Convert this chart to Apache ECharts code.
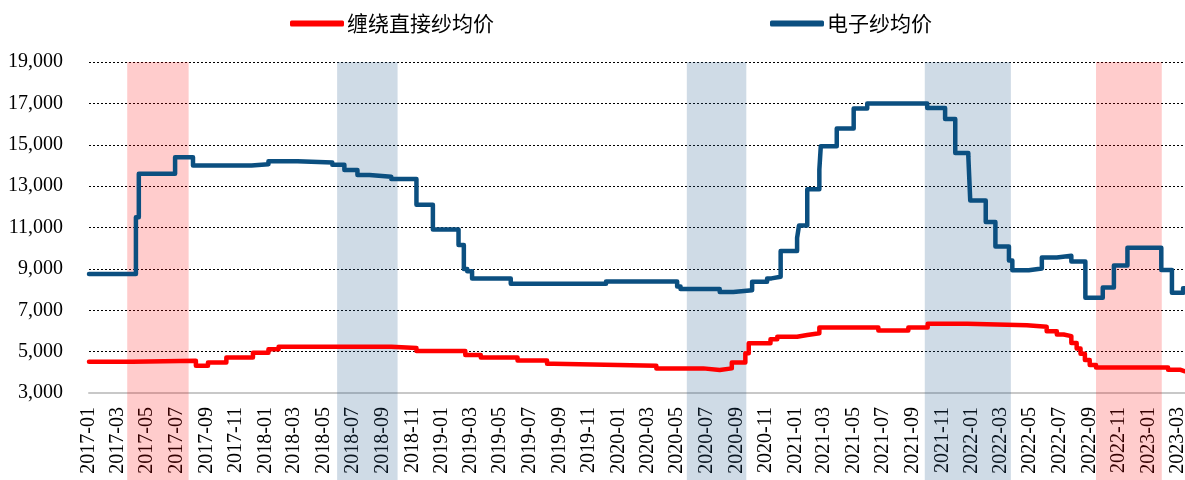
<!DOCTYPE html>
<html>
<head>
<meta charset="utf-8">
<title>纱价走势</title>
<style>
    html, body { margin: 0; padding: 0; background: #fff; }
    #chart { width: 1185px; height: 480px; }
</style>
<script src="https://cdn.jsdelivr.net/npm/echarts@6/dist/echarts.min.js"></script>
</head>
<body>
<div id="chart"></div>
<script>
// Price change points [date, price]; the price holds until the next change
const windingYarn = [
    ['2017-01-01', 4510], ['2017-04-01', 4560], ['2017-08-10', 4320], ['2017-09-04', 4470],
    ['2017-10-12', 4710], ['2017-12-06', 4940], ['2018-01-07', 5120], ['2018-01-28', 5240],
    ['2018-09-18', 5170], ['2018-11-09', 5030], ['2019-02-18', 4840], ['2019-03-22', 4720],
    ['2019-06-06', 4570], ['2019-08-06', 4410], ['2019-08-20', 4320], ['2020-03-19', 4190],
    ['2020-06-24', 4110], ['2020-07-28', 4190], ['2020-08-22', 4470], ['2020-09-19', 4920],
    ['2020-09-26', 5400], ['2020-11-10', 5600], ['2020-11-24', 5720], ['2021-01-04', 5800],
    ['2021-01-25', 5890], ['2021-02-19', 6170], ['2021-06-21', 6020], ['2021-08-22', 6170],
    ['2021-10-01', 6350], ['2021-12-22', 6280], ['2022-04-24', 6200], ['2022-06-04', 5980],
    ['2022-06-25', 5830], ['2022-07-09', 5750], ['2022-07-25', 5420], ['2022-08-05', 5150],
    ['2022-08-13', 4900], ['2022-08-22', 4600], ['2022-09-01', 4350], ['2022-09-14', 4230],
    ['2023-02-10', 4120], ['2023-03-08', 4050], ['2023-03-17', 4050]
];

const electronicYarn = [
    ['2017-01-01', 8750], ['2017-04-08', 11500], ['2017-04-14', 13600], ['2017-06-28', 14400],
    ['2017-08-04', 14000], ['2017-12-03', 14060], ['2018-01-07', 14200], ['2018-03-08', 14140],
    ['2018-05-19', 14030], ['2018-06-13', 13780], ['2018-07-10', 13540], ['2018-08-04', 13450],
    ['2018-09-18', 13350], ['2018-11-09', 12100], ['2018-12-13', 10900], ['2019-02-04', 10150],
    ['2019-02-15', 9000], ['2019-02-22', 8880], ['2019-03-04', 8540], ['2019-05-23', 8280],
    ['2019-12-06', 8390], ['2020-05-01', 8150], ['2020-05-08', 8030], ['2020-07-28', 7880],
    ['2020-08-25', 7970], ['2020-10-03', 8380], ['2020-11-03', 8540], ['2020-11-12', 8620],
    ['2020-12-01', 9870], ['2021-01-04', 10500], ['2021-01-08', 11100], ['2021-01-25', 12850],
    ['2021-02-19', 13800], ['2021-02-22', 14930], ['2021-03-27', 15780], ['2021-05-01', 16750],
    ['2021-05-29', 17000], ['2021-09-30', 16780], ['2021-11-06', 16250], ['2021-11-27', 14600],
    ['2021-12-24', 14450], ['2021-12-28', 12300], ['2022-01-29', 11260], ['2022-02-18', 10080],
    ['2022-03-18', 9400], ['2022-03-25', 8930], ['2022-04-28', 9020], ['2022-05-25', 9550],
    ['2022-06-25', 9630], ['2022-07-25', 9360], ['2022-08-23', 7600], ['2022-09-28', 8100],
    ['2022-10-21', 9160], ['2022-11-18', 10020], ['2023-01-27', 8940], ['2023-02-18', 7840],
    ['2023-03-13', 8060], ['2023-03-17', 8060]
];

// Shaded periods
const bandStarts = ['2017-03-21', '2018-05-29', '2020-05-21', '2021-09-25', '2022-09-14'];
const bandEnds   = ['2017-07-26', '2018-10-01', '2020-09-21', '2022-03-22', '2023-01-28'];
const bandKinds  = ['up', 'down', 'down', 'down', 'up'];

const yMin = 3000;
const yMax = 19000;
const yStep = 2000;

const firstDay = '2017-01-01';
const lastDay = '2023-03-17';

// Daily categories for the x axis
function buildDays(start, end) {
    const days = [];
    const d = new Date(start + 'T00:00:00Z');
    const stop = new Date(end + 'T00:00:00Z');
    while (d <= stop) {
        days.push(d.toISOString().slice(0, 10));
        d.setUTCDate(d.getUTCDate() + 1);
    }
    return days;
}

const days = buildDays(firstDay, lastDay);

// Label every other month, starting with January
function isLabelDay(index, value) {
    return value.slice(8) === '01' && Number(value.slice(5, 7)) % 2 === 1;
}

const bandColors = {
    up: 'rgba(255, 0, 0, 0.2)',
    down: 'rgba(36, 91, 141, 0.22)'
};

const bandData = bandStarts.map((start, i) => [
    { xAxis: start, yAxis: 0, itemStyle: { color: bandColors[bandKinds[i]] } },
    { xAxis: bandEnds[i], yAxis: 1 }
]);

const chart = echarts.init(document.getElementById('chart'));

const option = {
    animation: false,
    backgroundColor: '#fff',
    legend: {
        top: 8,
        left: 285,
        icon: 'roundRect',
        itemWidth: 54,
        itemHeight: 6,
        itemGap: 276,
        textStyle: {
            fontFamily: 'Noto Sans CJK SC',
            fontSize: 21,
            color: '#000',
            padding: [0, 0, 0, -2]
        },
        data: ['缠绕直接纱均价', '电子纱均价']
    },
    grid: [
        { left: 89, right: 0, top: 62, bottom: 87, outerBoundsMode: 'none' },
        { left: 89, right: 0, top: 62, bottom: 0, outerBoundsMode: 'none' }
    ],
    xAxis: [
        {
            type: 'category',
            data: days,
            boundaryGap: false,
            axisLine: { lineStyle: { color: '#c8c8c8', width: 2 } },
            axisTick: { show: false },
            axisLabel: {
                interval: isLabelDay,
                rotate: 90,
                margin: 14,
                fontFamily: 'Liberation Serif',
                fontSize: 20,
                color: '#000',
                formatter: value => value.slice(0, 7)
            },
            splitLine: { show: false }
        },
        {
            type: 'category',
            gridIndex: 1,
            data: days,
            boundaryGap: false,
            show: false
        }
    ],
    yAxis: [
        {
            type: 'value',
            min: yMin,
            max: yMax,
            interval: yStep,
            axisLine: { show: false },
            axisTick: { show: false },
            axisLabel: {
                margin: 26,
                fontFamily: 'Liberation Serif',
                fontSize: 20,
                color: '#000',
                formatter: value => value.toLocaleString('en-US')
            },
            splitLine: {
                lineStyle: { color: '#000', type: [2, 2], width: 1 }
            }
        },
        {
            type: 'value',
            gridIndex: 1,
            min: 0,
            max: 1,
            show: false
        }
    ],
    series: [
        {
            name: '缠绕直接纱均价',
            type: 'line',
            step: 'end',
            data: windingYarn,
            showSymbol: false,
            color: '#ff0000',
            lineStyle: { color: '#ff0000', width: 4.5, cap: 'round', join: 'round' },
            z: 2
        },
        {
            name: '电子纱均价',
            type: 'line',
            step: 'end',
            data: electronicYarn,
            showSymbol: false,
            color: '#0b4f80',
            lineStyle: { color: '#0b4f80', width: 4.5, cap: 'round', join: 'round' },
            z: 3
        },
        {
            name: 'bands',
            type: 'line',
            xAxisIndex: 1,
            yAxisIndex: 1,
            data: [],
            z: 5,
            markArea: {
                silent: true,
                data: bandData
            }
        }
    ]
};

chart.setOption(option);
</script>
</body>
</html>
